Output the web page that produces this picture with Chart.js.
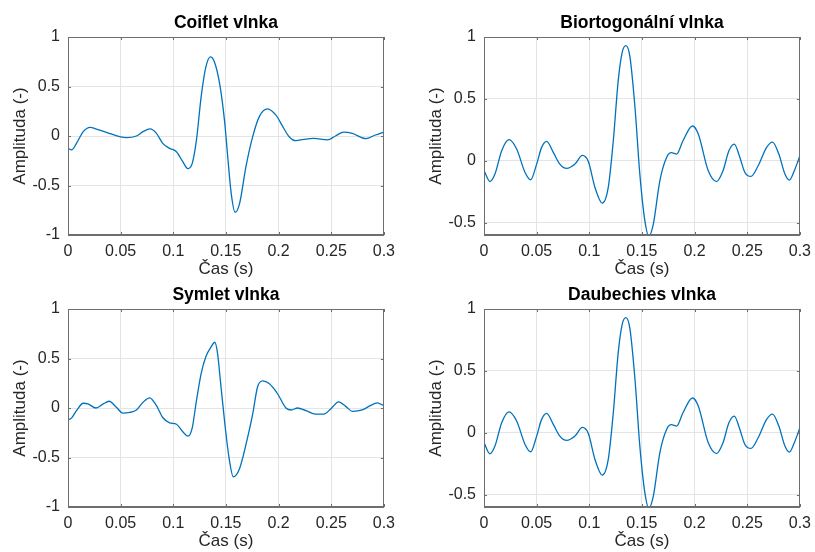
<!DOCTYPE html>
<html>
<head>
<meta charset="utf-8">
<script src="https://cdn.jsdelivr.net/npm/chart.js@4.4.1/dist/chart.umd.min.js"></script>
<style>
    body { margin: 0; background: #ffffff; overflow: hidden; }
    #wrap { position: relative; width: 815px; height: 552px; overflow: hidden; }
    canvas { position: absolute; }
</style>
</head>
<body>
<div id="wrap">
    <canvas id="c1" width="402" height="280" style="left:0px;top:0px"></canvas>
    <canvas id="c2" width="402" height="280" style="left:416px;top:0px"></canvas>
    <canvas id="c3" width="402" height="280" style="left:0px;top:272px"></canvas>
    <canvas id="c4" width="402" height="280" style="left:416px;top:272px"></canvas>
</div>
<script>
// values (time in s, amplitude in -)
const coifletT = [0, 0.0035, 0.008, 0.0145, 0.021, 0.027, 0.0366, 0.049, 0.0555, 0.065, 0.0713, 0.078, 0.084, 0.090, 0.0965, 0.103, 0.109, 0.114, 0.118, 0.122, 0.1265, 0.131, 0.1353, 0.139, 0.144, 0.1486, 0.1517, 0.155, 0.1587, 0.163, 0.169, 0.1754, 0.1817, 0.1896, 0.1975, 0.204, 0.21, 0.2164, 0.224, 0.2334, 0.2464, 0.254, 0.262, 0.27, 0.283, 0.292, 0.3];
const coifletA = [-0.125, -0.14, -0.075, 0.044, 0.088, 0.07, 0.037, -0.007, -0.017, 0, 0.044, 0.071, 0.027, -0.074, -0.125, -0.159, -0.26, -0.33, -0.277, -0.04, 0.40, 0.70, 0.80, 0.75, 0.53, 0.16, -0.21, -0.58, -0.77, -0.68, -0.31, -0.007, 0.196, 0.274, 0.21, 0.095, -0.007, -0.047, -0.034, -0.024, -0.04, 0, 0.04, 0.027, -0.027, 0.01, 0.04];

const biorT = [0, 0.0057, 0.0104, 0.0168, 0.0237, 0.031, 0.039, 0.0443, 0.05, 0.0547, 0.0595, 0.0658, 0.072, 0.0785, 0.0864, 0.0934, 0.099, 0.1054, 0.1123, 0.118, 0.1228, 0.1275, 0.1313, 0.1348, 0.1386, 0.1434, 0.148, 0.1528, 0.1566, 0.1608, 0.167, 0.1734, 0.178, 0.183, 0.189, 0.198, 0.2035, 0.213, 0.221, 0.227, 0.2326, 0.2377, 0.243, 0.2478, 0.2535, 0.2604, 0.2684, 0.274, 0.28, 0.2858, 0.29, 0.2953, 0.3];
const biorA = [-0.08, -0.168, -0.108, 0.081, 0.17, 0.095, -0.095, -0.154, -0.027, 0.108, 0.157, 0.068, -0.027, -0.062, -0.027, 0.043, -0.005, -0.216, -0.343, -0.216, 0.162, 0.65, 0.878, 0.93, 0.84, 0.43, -0.108, -0.486, -0.61, -0.513, -0.162, 0.027, 0.065, 0.054, 0.162, 0.281, 0.216, -0.081, -0.168, -0.081, 0.081, 0.135, 0.027, -0.095, -0.127, -0.04, 0.108, 0.151, 0.054, -0.108, -0.157, -0.068, 0.04];

const symletT = [0, 0.0035, 0.008, 0.0145, 0.019, 0.0265, 0.0334, 0.039, 0.046, 0.052, 0.0587, 0.065, 0.0713, 0.0776, 0.084, 0.090, 0.0965, 0.103, 0.109, 0.114, 0.118, 0.122, 0.1265, 0.131, 0.136, 0.1394, 0.142, 0.145, 0.149, 0.153, 0.157, 0.163, 0.169, 0.1754, 0.180, 0.185, 0.191, 0.199, 0.207, 0.212, 0.218, 0.226, 0.235, 0.243, 0.2495, 0.257, 0.264, 0.27, 0.2795, 0.287, 0.2937, 0.3];
const symletA = [-0.12, -0.10, -0.027, 0.048, 0.041, 0, 0.041, 0.068, 0.007, -0.051, -0.045, -0.02, 0.058, 0.103, 0.024, -0.096, -0.15, -0.164, -0.24, -0.284, -0.2, 0.075, 0.35, 0.52, 0.62, 0.664, 0.555, 0.247, -0.164, -0.507, -0.695, -0.61, -0.37, -0.062, 0.212, 0.274, 0.247, 0.144, 0, -0.02, 0, -0.027, -0.062, -0.062, -0.01, 0.062, 0.014, -0.034, -0.02, 0.024, 0.051, 0.024];

const daubT = [0, 0.0057, 0.0104, 0.0168, 0.0237, 0.031, 0.039, 0.0443, 0.05, 0.0547, 0.0595, 0.0658, 0.072, 0.0785, 0.0864, 0.0934, 0.099, 0.1054, 0.1123, 0.118, 0.1228, 0.1275, 0.1313, 0.1348, 0.1386, 0.1434, 0.148, 0.1528, 0.1566, 0.1608, 0.167, 0.1734, 0.178, 0.183, 0.189, 0.198, 0.2035, 0.213, 0.221, 0.227, 0.2326, 0.2377, 0.243, 0.2478, 0.2535, 0.2604, 0.2684, 0.274, 0.28, 0.2858, 0.29, 0.2953, 0.3];
const daubA = [-0.08, -0.17, -0.108, 0.081, 0.169, 0.095, -0.095, -0.155, -0.027, 0.108, 0.157, 0.068, -0.027, -0.062, -0.027, 0.043, -0.005, -0.216, -0.343, -0.216, 0.162, 0.65, 0.878, 0.93, 0.84, 0.43, -0.108, -0.486, -0.61, -0.513, -0.162, 0.027, 0.065, 0.054, 0.162, 0.281, 0.216, -0.081, -0.168, -0.081, 0.081, 0.135, 0.027, -0.095, -0.127, -0.04, 0.108, 0.151, 0.054, -0.108, -0.157, -0.068, 0.04];

const xTicks = [0, 0.05, 0.1, 0.15, 0.2, 0.25, 0.3];
const yTicksFull = [-1, -0.5, 0, 0.5, 1];
const yTicksShort = [-0.5, 0, 0.5, 1];

const lineColor = '#0072BD';
const axisColor = '#6e6e6e';
const gridColor = '#e4e4e4';
const textColor = '#262626';
const fontFamily = '"Liberation Sans", Arial, Helvetica, sans-serif';

// MATLAB style box: top/right edges + inner tick marks
const boxPlugin = {
    id: 'box',
    afterDraw(chart) {
        const ctx = chart.ctx;
        const a = chart.chartArea;
        const xs = chart.scales.x;
        const ys = chart.scales.y;
        ctx.save();
        ctx.strokeStyle = axisColor;
        ctx.lineWidth = 1;
        ctx.strokeRect(Math.round(a.left) + 0.5, Math.round(a.top) + 0.5,
            Math.round(a.right - a.left) - 1, Math.round(a.bottom - a.top) - 1);
        ctx.beginPath();
        xs.ticks.forEach(t => {
            const px = Math.round(xs.getPixelForValue(t.value)) + 0.5;
            ctx.moveTo(px, a.bottom); ctx.lineTo(px, a.bottom - 3);
            ctx.moveTo(px, a.top); ctx.lineTo(px, a.top + 3);
        });
        ys.ticks.forEach(t => {
            const py = Math.round(ys.getPixelForValue(t.value)) + 0.5;
            ctx.moveTo(a.left, py); ctx.lineTo(a.left + 3, py);
            ctx.moveTo(a.right, py); ctx.lineTo(a.right - 3, py);
        });
        ctx.stroke();
        ctx.restore();
    }
};

function createChart(canvasID, title, times, amps, yMin, yMax, yTicks) {
    const ctx = document.getElementById(canvasID).getContext('2d');
    const points = times.map((t, i) => ({x: t, y: amps[i]}));

    return new Chart(ctx, {
        type: 'line',
        data: {
            datasets: [{
                data: points,
                borderColor: lineColor,
                borderWidth: 1.3,
                pointRadius: 0,
                fill: false,
                cubicInterpolationMode: 'monotone'
            }]
        },
        plugins: [boxPlugin],
        options: {
            responsive: false,
            animation: false,
            devicePixelRatio: 1,
            layout: { padding: { left: 0, right: 14, top: 0, bottom: 0 } },
            plugins: {
                legend: { display: false },
                tooltip: { enabled: false },
                title: {
                    display: true,
                    text: title,
                    fullSize: false,
                    color: '#000000',
                    font: { family: fontFamily, size: 17.5, weight: 'bold', lineHeight: 1.2 },
                    padding: { top: 13, bottom: 3 }
                }
            },
            scales: {
                x: {
                    type: 'linear',
                    min: 0,
                    max: 0.3,
                    afterBuildTicks: scale => { scale.ticks = xTicks.map(v => ({value: v})); },
                    afterFit: scale => { scale.height = 45; },
                    grid: { color: gridColor, drawTicks: false },
                    border: { color: axisColor },
                    ticks: {
                        color: textColor,
                        padding: 7,
                        maxRotation: 0,
                        font: { family: fontFamily, size: 16 },
                        callback: value => String(value)
                    },
                    title: {
                        display: true,
                        text: 'Čas (s)',
                        color: textColor,
                        font: { family: fontFamily, size: 17 },
                        padding: { top: 0, bottom: 0 }
                    }
                },
                y: {
                    min: yMin,
                    max: yMax,
                    afterBuildTicks: scale => { scale.ticks = yTicks.map(v => ({value: v})); },
                    afterFit: scale => { scale.width = 68; },
                    grid: { color: gridColor, drawTicks: false },
                    border: { color: axisColor },
                    ticks: {
                        color: textColor,
                        padding: 8,
                        font: { family: fontFamily, size: 16 },
                        callback: value => String(value)
                    },
                    title: {
                        display: true,
                        text: 'Amplituda (-)',
                        color: textColor,
                        font: { family: fontFamily, size: 17 },
                        padding: { top: 10, bottom: 0 }
                    }
                }
            }
        }
    });
}

createChart('c1', 'Coiflet vlnka', coifletT, coifletA, -1, 1, yTicksFull);
createChart('c2', 'Biortogonální vlnka', biorT, biorA, -0.6, 1, yTicksShort);
createChart('c3', 'Symlet vlnka', symletT, symletA, -1, 1, yTicksFull);
createChart('c4', 'Daubechies vlnka', daubT, daubA, -0.6, 1, yTicksShort);
</script>
</body>
</html>
